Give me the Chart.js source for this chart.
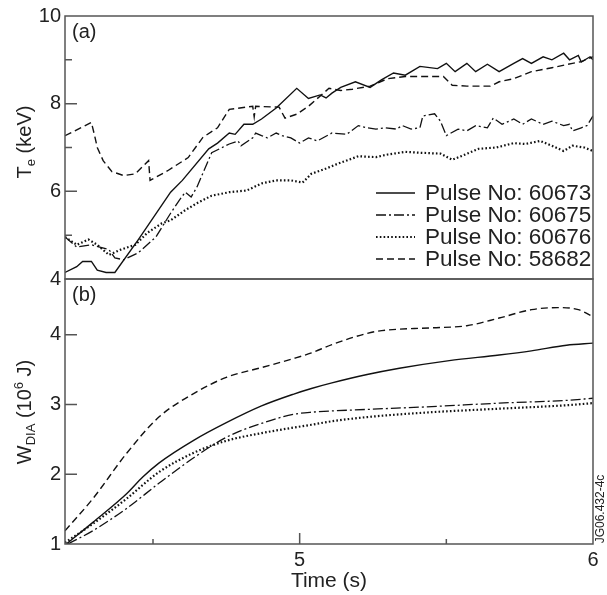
<!DOCTYPE html>
<html>
<head>
<meta charset="utf-8">
<script src="https://cdn.jsdelivr.net/npm/chart.js@4"></script>
<style>
  body { margin: 0; background: #fff; }
  #wrap { position: relative; width: 607px; height: 595px; }
  canvas { position: absolute; left: 0; top: 0; }
</style>
</head>
<body>
<div id="wrap">
  <canvas id="chartA" width="607" height="595"></canvas>
  <canvas id="chartB" width="607" height="595"></canvas>
</div>
<script>
const FONT = '"Liberation Sans", Arial, sans-serif';

const pulseLabels = ['Pulse No: 60673', 'Pulse No: 60675', 'Pulse No: 60676', 'Pulse No: 58682'];

// (a) electron temperature, keV
const teTime60673 = [4.2, 4.24, 4.26, 4.29, 4.31, 4.34, 4.37, 4.45, 4.56, 4.60, 4.69, 4.72, 4.76, 4.78, 4.81, 4.84, 4.87, 4.92, 4.99, 5.03, 5.07, 5.09, 5.11, 5.14, 5.19, 5.24, 5.28, 5.32, 5.36, 5.41, 5.47, 5.50, 5.53, 5.57, 5.60, 5.64, 5.68, 5.73, 5.76, 5.79, 5.83, 5.86, 5.90, 5.92, 5.95, 5.96, 5.99, 6.0];
const te60673 = [4.15, 4.28, 4.4, 4.4, 4.2, 4.15, 4.15, 4.9, 5.98, 6.25, 6.97, 7.1, 7.33, 7.3, 7.53, 7.53, 7.65, 7.9, 8.35, 8.12, 8.2, 8.13, 8.24, 8.37, 8.5, 8.37, 8.55, 8.7, 8.65, 8.85, 8.8, 8.92, 8.73, 8.92, 8.73, 8.9, 8.73, 8.92, 9.03, 8.92, 9.07, 9.0, 9.15, 9.0, 9.1, 8.95, 9.07, 9.0];

const teTime60675 = [4.2, 4.24, 4.29, 4.35, 4.37, 4.40, 4.45, 4.51, 4.56, 4.59, 4.61, 4.63, 4.65, 4.70, 4.76, 4.79, 4.80, 4.84, 4.85, 4.87, 4.89, 4.92, 4.94, 4.97, 5.0, 5.03, 5.06, 5.11, 5.16, 5.20, 5.23, 5.26, 5.29, 5.33, 5.35, 5.38, 5.41, 5.42, 5.46, 5.48, 5.50, 5.54, 5.57, 5.60, 5.64, 5.66, 5.69, 5.73, 5.76, 5.79, 5.83, 5.86, 5.90, 5.92, 5.93, 5.96, 5.98, 6.0];
const te60675 = [4.96, 4.73, 4.78, 4.67, 4.48, 4.44, 4.6, 4.96, 5.5, 5.8, 5.98, 5.87, 6.1, 6.88, 7.08, 7.15, 7.04, 7.22, 7.33, 7.27, 7.22, 7.33, 7.27, 7.22, 7.1, 7.22, 7.15, 7.33, 7.3, 7.5, 7.45, 7.42, 7.45, 7.42, 7.5, 7.42, 7.45, 7.72, 7.77, 7.6, 7.27, 7.42, 7.38, 7.5, 7.45, 7.67, 7.53, 7.65, 7.53, 7.65, 7.53, 7.6, 7.5, 7.53, 7.38, 7.45, 7.5, 7.72];

const teTime60676 = [4.2, 4.24, 4.28, 4.31, 4.35, 4.39, 4.44, 4.48, 4.53, 4.56, 4.61, 4.65, 4.70, 4.76, 4.82, 4.87, 4.92, 4.97, 5.01, 5.04, 5.09, 5.13, 5.20, 5.26, 5.30, 5.36, 5.41, 5.48, 5.52, 5.55, 5.61, 5.67, 5.73, 5.77, 5.82, 5.86, 5.90, 5.93, 5.97, 6.0];
const te60676 = [4.96, 4.78, 4.9, 4.78, 4.55, 4.67, 4.78, 5.05, 5.27, 5.34, 5.57, 5.73, 5.9, 5.98, 6.02, 6.18, 6.25, 6.25, 6.2, 6.4, 6.52, 6.63, 6.8, 6.78, 6.84, 6.9, 6.88, 6.86, 6.72, 6.8, 6.97, 7.0, 7.1, 7.08, 7.15, 7.04, 6.92, 7.04, 7.0, 6.92];

const teTime58682 = [4.2, 4.29, 4.30, 4.31, 4.33, 4.36, 4.40, 4.44, 4.485, 4.49, 4.55, 4.62, 4.67, 4.72, 4.76, 4.84, 4.845, 4.85, 4.93, 4.95, 4.99, 5.03, 5.10, 5.14, 5.18, 5.24, 5.30, 5.36, 5.49, 5.52, 5.57, 5.65, 5.68, 5.73, 5.79, 5.86, 5.93, 5.96, 6.0];
const te58682 = [7.27, 7.57, 7.3, 7.0, 6.7, 6.45, 6.36, 6.4, 6.7, 6.25, 6.47, 6.77, 7.23, 7.45, 7.87, 7.94, 7.7, 7.94, 7.92, 7.67, 7.76, 7.94, 8.35, 8.3, 8.33, 8.4, 8.57, 8.62, 8.62, 8.42, 8.4, 8.4, 8.5, 8.57, 8.73, 8.82, 8.92, 8.96, 9.07];

// (b) diamagnetic energy, 10^6 J
const wTime60673 = [4.205, 4.295, 4.41, 4.465, 4.52, 4.64, 4.75, 4.87, 4.98, 5.04, 5.11, 5.23, 5.34, 5.51, 5.68, 5.79, 5.91, 6.0];
const w60673 = [1.0, 1.31, 1.72, 1.96, 2.16, 2.49, 2.74, 2.98, 3.15, 3.23, 3.31, 3.43, 3.52, 3.63, 3.71, 3.77, 3.85, 3.88];

const wTime60675 = [4.21, 4.295, 4.41, 4.52, 4.64, 4.75, 4.87, 4.98, 5.04, 5.23, 5.45, 5.68, 5.91, 6.0];
const w60675 = [1.0, 1.19, 1.51, 1.87, 2.24, 2.53, 2.73, 2.86, 2.89, 2.93, 2.97, 3.02, 3.06, 3.09];

const wTime60676 = [4.2, 4.295, 4.41, 4.52, 4.64, 4.75, 4.87, 4.98, 5.04, 5.11, 5.23, 5.45, 5.68, 5.91, 6.0];
const w60676 = [1.02, 1.29, 1.65, 2.03, 2.31, 2.48, 2.59, 2.67, 2.71, 2.76, 2.82, 2.89, 2.94, 2.99, 3.02];

const wTime58682 = [4.2, 4.295, 4.41, 4.52, 4.64, 4.75, 4.87, 4.98, 5.04, 5.11, 5.23, 5.28, 5.45, 5.57, 5.68, 5.79, 5.88, 5.95, 6.0];
const w58682 = [1.19, 1.65, 2.3, 2.82, 3.16, 3.39, 3.53, 3.66, 3.74, 3.86, 4.02, 4.06, 4.1, 4.13, 4.24, 4.36, 4.39, 4.36, 4.26];

const pts = (xs, ys) => xs.map((x, i) => ({ x, y: ys[i] }));

// line styles: solid, dash-dot, dotted, dashed
const styles = [
    { borderDash: [], borderWidth: 1.4 },
    { borderDash: [10, 3, 2, 3], borderWidth: 1.3 },
    { borderDash: [1.6, 2.2], borderWidth: 2.2 },
    { borderDash: [7, 4], borderWidth: 1.4 },
];

const makeSets = (series, smooth) => series.map((data, i) => ({
    label: pulseLabels[i],
    data,
    borderColor: '#111',
    borderWidth: styles[i].borderWidth,
    borderDash: styles[i].borderDash,
    pointRadius: 0,
    fill: false,
    tension: smooth ? 0.4 : 0,
    cubicInterpolationMode: smooth ? 'monotone' : 'default',
}));

// rotated axis title with sub/superscripts
function drawRotated(ctx, parts, cx, cy) {
    let total = 0;
    parts.forEach(p => { ctx.font = p.size + 'px ' + FONT; p.w = ctx.measureText(p.text).width; total += p.w; });
    ctx.save();
    ctx.translate(cx, cy);
    ctx.rotate(-Math.PI / 2);
    ctx.textBaseline = 'alphabetic';
    ctx.textAlign = 'left';
    let x = -total / 2;
    parts.forEach(p => {
        ctx.font = p.size + 'px ' + FONT;
        ctx.fillText(p.text, x, 7 + p.dy);
        x += p.w;
    });
    ctx.restore();
}

const panelPlugin = {
    id: 'panel',
    afterDraw(chart, args, opts) {
        const { ctx, chartArea: a, scales: { x, y } } = chart;
        ctx.save();
        ctx.strokeStyle = '#555';
        ctx.lineWidth = 1.5;
        ctx.setLineDash([]);
        ctx.strokeRect(a.left, a.top, a.right - a.left, a.bottom - a.top);
        // inward ticks
        ctx.beginPath();
        opts.yMajor.forEach(v => { const p = y.getPixelForValue(v); ctx.moveTo(a.left, p); ctx.lineTo(a.left + 12, p); });
        opts.yMinor.forEach(v => { const p = y.getPixelForValue(v); ctx.moveTo(a.left, p); ctx.lineTo(a.left + 7, p); });
        opts.xMajor.forEach(v => { const p = x.getPixelForValue(v); ctx.moveTo(p, a.bottom); ctx.lineTo(p, a.bottom - 11); });
        opts.xMinor.forEach(v => { const p = x.getPixelForValue(v); ctx.moveTo(p, a.bottom); ctx.lineTo(p, a.bottom - 5); });
        ctx.stroke();

        ctx.fillStyle = '#222';
        ctx.font = '20px ' + FONT;
        ctx.textBaseline = 'middle';
        ctx.textAlign = 'left';
        ctx.fillText(opts.label, a.left + 7, a.top + 16);

        drawRotated(ctx, opts.title, 24, opts.titleY);

        if (opts.legend) {
            const rowY = [193, 215, 237, 259];
            chart.data.datasets.forEach((ds, i) => {
                ctx.strokeStyle = '#111';
                ctx.lineWidth = ds.borderWidth;
                ctx.setLineDash(ds.borderDash);
                ctx.beginPath();
                ctx.moveTo(376, rowY[i]);
                ctx.lineTo(415, rowY[i]);
                ctx.stroke();
                ctx.setLineDash([]);
                ctx.font = '22.5px ' + FONT;
                ctx.fillText(ds.label, 425, rowY[i] + 1);
            });
        }
        if (opts.stamp) {
            ctx.save();
            ctx.translate(601, 509);
            ctx.rotate(-Math.PI / 2);
            ctx.font = '12px ' + FONT;
            ctx.textAlign = 'center';
            ctx.textBaseline = 'middle';
            ctx.fillText(opts.stamp, 0, 0);
            ctx.restore();
        }
        ctx.restore();
    }
};

const yAxis = (min, max, show) => ({
    type: 'linear',
    min, max,
    grid: { display: false, drawTicks: false },
    border: { display: false },
    ticks: {
        stepSize: 1,
        padding: 4,
        color: '#222',
        font: { family: FONT, size: 20 },
        callback: v => show(v) ? String(v) : '',
    },
    afterFit: s => { s.width = 65; },
});

new Chart(document.getElementById('chartA'), {
    type: 'line',
    data: {
        datasets: makeSets([
            pts(teTime60673, te60673),
            pts(teTime60675, te60675),
            pts(teTime60676, te60676),
            pts(teTime58682, te58682),
        ], false)
    },
    options: {
        responsive: false,
        animation: false,
        layout: { padding: { top: 14, right: 14, bottom: 316, left: 0 } },
        scales: {
            x: { type: 'linear', min: 4.2, max: 6, display: false },
            y: yAxis(4, 10, v => v % 2 === 0),
        },
        plugins: {
            legend: { display: false },
            tooltip: { enabled: false },
            panel: {
                label: '(a)',
                yMajor: [6, 8], yMinor: [5, 7, 9], xMajor: [], xMinor: [],
                title: [
                    { text: 'T', size: 20, dy: 0 },
                    { text: 'e', size: 13, dy: 4 },
                    { text: ' (keV)', size: 20, dy: 0 },
                ],
                titleY: 142,
                legend: true,
            },
        },
    },
    plugins: [panelPlugin],
});

new Chart(document.getElementById('chartB'), {
    type: 'line',
    data: {
        datasets: makeSets([
            pts(wTime60673, w60673),
            pts(wTime60675, w60675),
            pts(wTime60676, w60676),
            pts(wTime58682, w58682),
        ], true)
    },
    options: {
        responsive: false,
        animation: false,
        layout: { padding: { top: 279, right: 14, bottom: 0, left: 0 } },
        scales: {
            x: {
                type: 'linear',
                min: 4.2, max: 6,
                grid: { display: false, drawTicks: false },
                border: { display: false },
                ticks: {
                    stepSize: 0.5,
                    padding: 4,
                    maxRotation: 0,
                    autoSkip: false,
                    color: '#222',
                    font: { family: FONT, size: 20 },
                    callback: v => (v === 5 || v === 6) ? String(v) : '',
                },
                title: {
                    display: true,
                    text: 'Time (s)',
                    color: '#222',
                    font: { family: FONT, size: 21 },
                    padding: { top: 0, bottom: 1 },
                },
                afterFit: s => { s.height = 51; },
            },
            y: yAxis(1, 4.8, v => Number.isInteger(v) && v <= 4),
        },
        plugins: {
            legend: { display: false },
            tooltip: { enabled: false },
            panel: {
                label: '(b)',
                yMajor: [2, 3, 4], yMinor: [], xMajor: [5], xMinor: [4.5, 5.5],
                title: [
                    { text: 'W', size: 20, dy: 0 },
                    { text: 'DIA', size: 13, dy: 4 },
                    { text: ' (10', size: 20, dy: 0 },
                    { text: '6', size: 13, dy: -8 },
                    { text: ' J)', size: 20, dy: 0 },
                ],
                titleY: 412,
                stamp: 'JG06.432-4c',
            },
        },
    },
    plugins: [panelPlugin],
});
</script>
</body>
</html>
